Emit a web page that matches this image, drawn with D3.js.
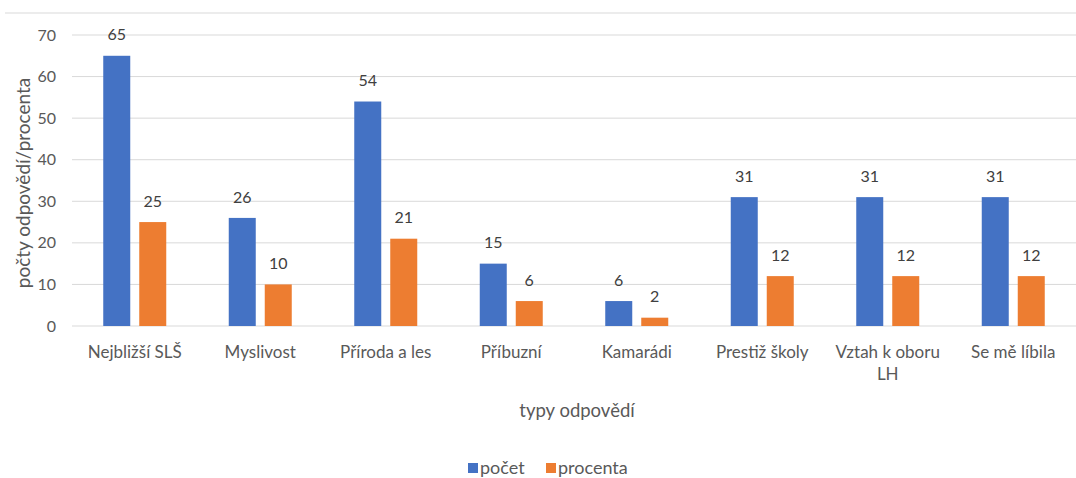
<!DOCTYPE html>
<html>
<head>
<meta charset="utf-8">
<script src="https://cdn.jsdelivr.net/npm/d3@7"></script>
<style>
  body { margin: 0; background: #fff; }
  text { font-family: Lato, "Open Sans", sans-serif; fill: #595959; }
</style>
</head>
<body>
<div id="chart"></div>
<script>
// data
const categories = ["Nejbližší SLŠ", "Myslivost", "Příroda a les", "Příbuzní", "Kamarádi", "Prestiž školy", "Vztah k oboru LH", "Se mě líbila"];
const pocet = [65, 26, 54, 15, 6, 31, 31, 31];
const procenta = [25, 10, 21, 6, 2, 12, 12, 12];
const seriesNames = ["počet", "procenta"];
const yTicks = [0, 10, 20, 30, 40, 50, 60, 70];

const colors = ["#4472C4", "#ED7D31"];

const W = 1076, H = 478;
const margin = { top: 35, right: 0, bottom: 152, left: 72 };
const width = W - margin.left - margin.right,
  height = H - margin.top - margin.bottom;

const svg = d3.select("#chart").append("svg")
  .attr("width", W).attr("height", H);

// top border line
svg.append("line")
  .attr("x1", 5).attr("x2", W)
  .attr("y1", 13).attr("y2", 13)
  .attr("stroke", "#e6e6e6").attr("stroke-width", 1.5);

const g = svg.append("g").attr("transform", `translate(${margin.left},${margin.top})`);

const x0 = d3.scaleBand().domain(categories).range([0, width]).paddingInner(0).paddingOuter(0);
const x1 = d3.scaleBand().domain(seriesNames).range([x0.bandwidth() / 2 - 31.5, x0.bandwidth() / 2 + 31.5]).paddingInner(0.25);
const y = d3.scaleLinear().domain([0, 70]).range([height, 0]);

// gridlines
g.append("g").selectAll("line").data(yTicks).enter().append("line")
  .attr("x1", 0).attr("x2", width)
  .attr("y1", d => y(d)).attr("y2", d => y(d))
  .attr("stroke", "#d9d9d9").attr("stroke-width", 1);

// y tick labels
g.append("g").selectAll("text").data(yTicks).enter().append("text")
  .attr("x", -16).attr("y", d => y(d)).attr("dy", "0.35em")
  .attr("text-anchor", "end").style("font-size", "16px")
  .text(d => d);

const rows = categories.map((c, i) => ({ cat: c, values: [pocet[i], procenta[i]] }));

const groups = g.selectAll("g.grp").data(rows).enter().append("g")
  .attr("class", "grp")
  .attr("transform", d => `translate(${x0(d.cat)},0)`);

groups.selectAll("rect").data(d => d.values.map((v, j) => ({ s: seriesNames[j], v, j })))
  .enter().append("rect")
  .attr("x", d => x1(d.s)).attr("width", x1.bandwidth())
  .attr("y", d => y(d.v)).attr("height", d => height - y(d.v))
  .attr("fill", d => colors[d.j]);

groups.selectAll("text.val").data(d => d.values.map((v, j) => ({ s: seriesNames[j], v, j })))
  .enter().append("text")
  .attr("class", "val")
  .attr("x", d => x1(d.s) + x1.bandwidth() / 2)
  .attr("y", d => y(d.v) - 21).attr("dy", "0.35em")
  .attr("text-anchor", "middle").style("font-size", "16px")
  .style("fill", "#404040")
  .text(d => d.v);

// category labels (wrapped like the original)
const catLines = { "Vztah k oboru LH": ["Vztah k oboru", "LH"] };
groups.append("text")
  .attr("x", x0.bandwidth() / 2).attr("y", height + 32)
  .attr("text-anchor", "middle").style("font-size", "17px")
  .selectAll("tspan").data(d => catLines[d.cat] || [d.cat]).enter().append("tspan")
  .attr("x", x0.bandwidth() / 2).attr("dy", (d, i) => i ? "1.3em" : 0)
  .text(d => d);

// axis titles
svg.append("text")
  .attr("x", 577).attr("y", 417)
  .attr("text-anchor", "middle").style("font-size", "18.5px")
  .text("typy odpovědí");

svg.append("text")
  .attr("transform", `translate(30,183) rotate(-90)`)
  .attr("text-anchor", "middle").style("font-size", "19px")
  .text("počty odpovědí/procenta");

// legend
const legend = svg.append("g").attr("transform", "translate(468,468)");
const legX = [0, 78];
seriesNames.forEach((s, i) => {
  legend.append("rect").attr("x", legX[i]).attr("y", -5).attr("width", 10).attr("height", 10).attr("fill", colors[i]);
  legend.append("text").attr("x", legX[i] + 12).attr("y", 0).attr("dy", "0.35em")
    .style("font-size", "18px").text(s);
});
</script>
</body>
</html>
